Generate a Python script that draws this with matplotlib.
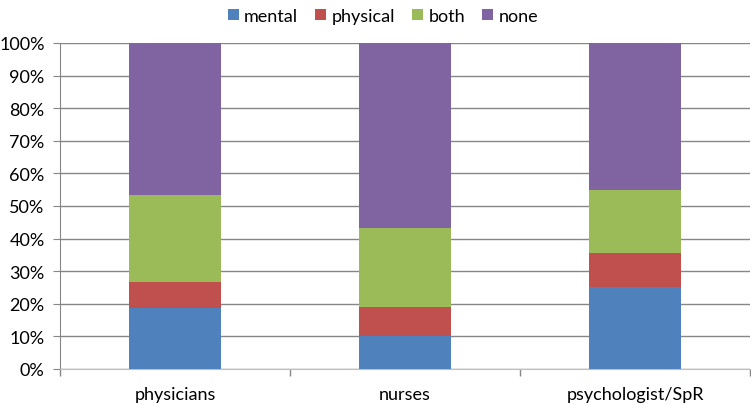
import matplotlib.pyplot as plt
import numpy as np
from matplotlib.ticker import FixedLocator, PercentFormatter

categories = ['physicians', 'nurses', 'psychologist/SpR']
mental = [18.6, 10.1, 25.3]
physical = [8.2, 8.8, 10.2]
both = [26.5, 24.5, 19.5]
none = [46.7, 56.6, 45.0]

series = [('mental', mental, '#4F81BD'),
          ('physical', physical, '#C0504D'),
          ('both', both, '#9BBB59'),
          ('none', none, '#8064A2')]

plt.rcParams['font.family'] = ['Lato', 'DejaVu Sans']

fig = plt.figure(figsize=(7.51, 4.06), dpi=100)
ax = fig.add_axes([60 / 751, 36 / 406, 690 / 751, 326 / 406])

x = np.arange(len(categories))
bottom = np.zeros(len(categories))
for name, vals, col in series:
    ax.bar(x, vals, width=0.4, bottom=bottom, color=col, label=name, zorder=3)
    bottom += np.array(vals)

ax.set_xlim(-0.5, 2.5)
ax.set_ylim(0, 100)
ax.set_yticks(np.arange(0, 101, 10))
ax.yaxis.set_major_formatter(PercentFormatter(decimals=0))
ax.set_xticks(x)
ax.set_xticklabels(categories)
ax.xaxis.set_minor_locator(FixedLocator([-0.5, 0.5, 1.5, 2.5]))
ax.tick_params(axis='x', which='major', length=0, pad=12, labelsize=13)
ax.tick_params(axis='x', which='minor', length=5, color='#868686', width=1)
ax.tick_params(axis='y', length=5, color='#868686', labelsize=13, pad=6)

ax.grid(axis='y', color='#868686', linewidth=1, zorder=0)
for s in ['top', 'right']:
    ax.spines[s].set_visible(False)
ax.spines['left'].set_color('#868686')
ax.spines['bottom'].set_color('#BFBFBF')

fig.legend(*ax.get_legend_handles_labels(), loc='upper center',
           bbox_to_anchor=(0.51, 1.0), ncol=4, frameon=False,
           handlelength=0.6, handleheight=0.6, handletextpad=0.3, columnspacing=0.95,
           fontsize=13, borderpad=0)

fig.savefig('out.png', dpi=100)
